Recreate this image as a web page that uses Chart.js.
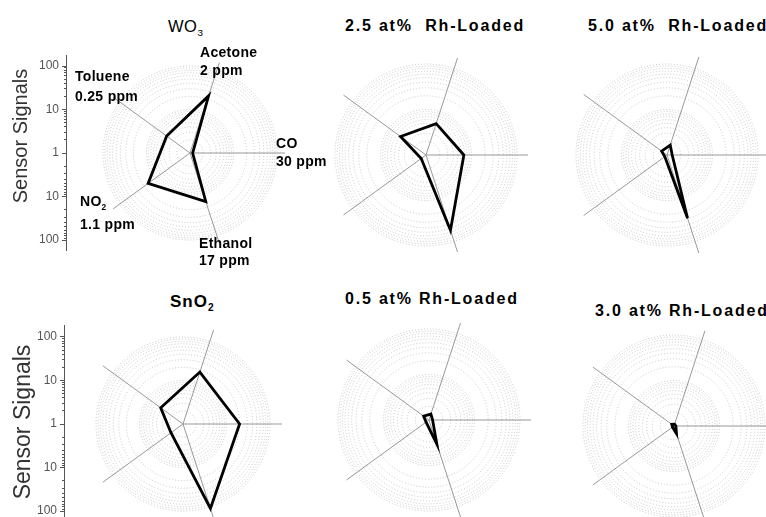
<!DOCTYPE html>
<html>
<head>
<meta charset="utf-8">
<script src="https://cdn.jsdelivr.net/npm/chart.js@4.4.1/dist/chart.umd.min.js"></script>
<style>
  body { margin: 0; background: #fff; }
  #page { position: relative; width: 766px; height: 517px; overflow: hidden;
          font-family: "Liberation Sans", Arial, sans-serif; }
  #page canvas { position: absolute; }
  .txt { position: absolute; white-space: pre; line-height: 1; color: #000; }
  .sub { font-size: 0.6em; position: relative; top: 0.45em; }
  .ytitle { position: absolute; white-space: pre; line-height: 1; color: #333;
            transform: translate(-50%, -50%) rotate(-90deg); }
</style>
</head>
<body>
<div id="page"></div>
<script>
// gases, clockwise from the spoke just right of north
const gases = ['Acetone', 'CO', 'Ethanol', 'NO2', 'Toluene'];
const doses = ['2 ppm', '30 ppm', '17 ppm', '1.1 ppm', '0.25 ppm'];

const titles = ['WO3', '2.5 at%  Rh-Loaded', '5.0 at%  Rh-Loaded',
                'SnO2', '0.5 at% Rh-Loaded', '3.0 at% Rh-Loaded'];
const yTitle = 'Sensor Signals';

// sensor signals (Ra/Rg), same order as gases
const wo3   = [24, 1.15, 15, 15.5, 4.6];
const rh25  = [5.3, 6.8, 55, 1.35, 4.9];
const rh50  = [1.7, 1.3, 29, 1.15, 1.4];
const sno2  = [18, 20, 110, 2.2, 4.3];
const rh05  = [1.37, 1.2, 3.6, 1.2, 1.4];
const rh30  = [1.1, 1.1, 1.5, 1.1, 1.15];

// log rings of the polar grid and the decades on the side axis
const rings = [1, 2, 3, 4, 5, 6, 7, 8, 9, 10, 20, 30, 40, 50, 60, 70, 80, 90, 100];
const axisDecades = [-2, -1, 0, 1, 2];

const FONT = '"Liberation Sans", Arial, sans-serif';
const page = document.getElementById('page');

const panels = [
  { data: wo3,  cx: 190, cy: 153, spoke: 95,  decade: 43.5, tx: 168, ty: 26,  fs: 16.5, bold: false, ls: 0.5 },
  { data: rh25, cx: 426, cy: 155, spoke: 102, decade: 45.5, tx: 345, ty: 26,  fs: 16,   bold: true,  ls: 1.8 },
  { data: rh50, cx: 667, cy: 155, spoke: 103, decade: 45.5, tx: 588, ty: 26,  fs: 16,   bold: true,  ls: 1.8 },
  { data: sno2, cx: 183, cy: 424, spoke: 99,  decade: 43.5, tx: 170, ty: 301, fs: 17,   bold: true,  ls: 1 },
  { data: rh05, cx: 429, cy: 420, spoke: 102, decade: 45.5, tx: 345, ty: 299, fs: 16,   bold: true,  ls: 1.8 },
  { data: rh30, cx: 674, cy: 426, spoke: 100, decade: 45.5, tx: 595, ty: 311, fs: 16,   bold: true,  ls: 1.8 }
];

// where the gas names sit around the first plot (gas order)
const gasLabelPos = [
  { x: 200, y: 52,  y2: 70 },
  { x: 276, y: 143, y2: 161 },
  { x: 199, y: 243, y2: 260 },
  { x: 80,  y: 201, y2: 224 },
  { x: 75,  y: 76,  y2: 96 }
];

function withSubs(s) {
  return s.replace(/([A-Za-z])(\d)/g, '$1<span class="sub">$2</span>');
}

function addText(html, x, yMid, size, bold, spacing) {
  const d = document.createElement('div');
  d.className = 'txt';
  d.innerHTML = html;
  d.style.left = x + 'px';
  d.style.top = (yMid - size * 0.49) + 'px';
  d.style.fontSize = size + 'px';
  d.style.fontWeight = bold ? 'bold' : 'normal';
  d.style.letterSpacing = spacing + 'px';
  page.appendChild(d);
}

function addYTitle(text, cx, cy, size) {
  const d = document.createElement('div');
  d.className = 'ytitle';
  d.textContent = text;
  d.style.left = cx + 'px';
  d.style.top = cy + 'px';
  d.style.fontSize = size + 'px';
  page.appendChild(d);
}

function addCanvas(x, y, w, h) {
  const c = document.createElement('canvas');
  c.width = w; c.height = h;
  c.style.left = x + 'px'; c.style.top = y + 'px';
  c.style.width = w + 'px'; c.style.height = h + 'px';
  page.appendChild(c);
  return c;
}

function radar(p) {
  const size = p.spoke * 2;
  const canvas = addCanvas(p.cx - p.spoke, p.cy - p.spoke, size, size);
  new Chart(canvas, {
    type: 'radar',
    data: {
      labels: gases,
      datasets: [{
        data: p.data.map(Math.log10),
        borderColor: '#000',
        borderWidth: 2.8,
        borderJoinStyle: 'miter',
        fill: false,
        pointRadius: 0,
        tension: 0
      }]
    },
    options: {
      responsive: false,
      animation: false,
      events: [],
      layout: { padding: 0 },
      plugins: { legend: { display: false }, tooltip: { enabled: false } },
      scales: {
        r: {
          min: 0,
          max: p.spoke / p.decade,
          startAngle: 18,
          ticks: { display: false },
          pointLabels: { display: false },
          grid: { circular: true, color: '#c6c6c6', lineWidth: 1 },
          border: { dash: [1, 2] },
          angleLines: { color: '#999', lineWidth: 1 },
          afterBuildTicks: (scale) => {
            scale.ticks = rings.map((v) => ({ value: Math.log10(v) }));
          }
        }
      }
    }
  });
}

function signalAxis(top, bottom, cy, decade, axisX) {
  const canvas = addCanvas(0, top, axisX + 2, bottom - top);
  const ticks = axisDecades.slice();
  for (const n of [0, 1]) {
    for (let k = 2; k <= 9; k++) {
      const v = n + Math.log10(k);
      ticks.push(v, -v);
    }
  }
  ticks.sort((a, b) => a - b);
  new Chart(canvas, {
    type: 'scatter',
    data: { datasets: [] },
    options: {
      responsive: false,
      animation: false,
      events: [],
      layout: { padding: 0 },
      plugins: { legend: { display: false }, tooltip: { enabled: false } },
      scales: {
        x: { display: false },
        y: {
          position: 'left',
          min: -(bottom - cy) / decade,
          max: (cy - top) / decade,
          afterBuildTicks: (scale) => {
            scale.ticks = ticks.map((v) => ({ value: v }));
          },
          afterFit: (scale) => {
            scale.width = axisX;
            scale.paddingTop = 0;
            scale.paddingBottom = 0;
          },
          ticks: {
            autoSkip: false,
            padding: 3,
            color: '#555',
            font: { family: FONT, size: 12 },
            callback: (v) => axisDecades.includes(v) ? String(10 ** Math.abs(v)) : ''
          },
          grid: {
            drawOnChartArea: false,
            tickLength: 4,
            tickColor: '#555',
            tickBorderDash: (ctx) => axisDecades.includes(ctx.tick.value) ? [] : [0, 2, 2, 9]
          },
          border: { color: '#555', width: 1 },
          title: { display: false }
        }
      }
    }
  });
}

panels.forEach((p, i) => {
  radar(p);
  addText(withSubs(titles[i]), p.tx, p.ty, p.fs, p.bold, p.ls);
});

gases.forEach((g, i) => {
  const pos = gasLabelPos[i];
  addText(withSubs(g), pos.x, pos.y, 14, true, 0.3);
  addText(doses[i], pos.x, pos.y2, 14, true, 0.3);
});

signalAxis(55, 251, 153, 43.5, 66);
signalAxis(325, 520, 424, 43.5, 64);
addYTitle(yTitle, 20, 136, 20);
addYTitle(yTitle, 22, 422, 23);
</script>
</body>
</html>
